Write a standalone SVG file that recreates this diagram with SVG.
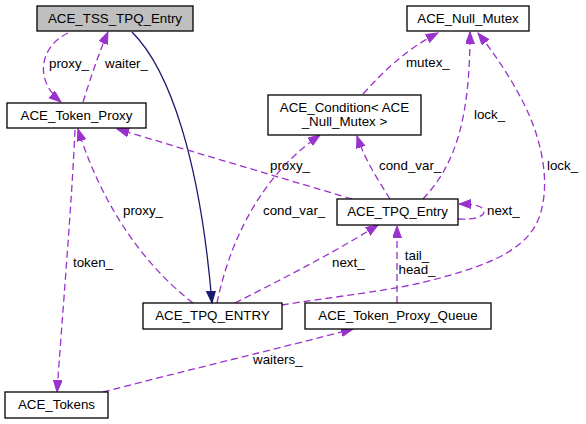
<svg xmlns="http://www.w3.org/2000/svg" width="586" height="424" viewBox="0 0 586 424">
<defs>
<style>
.box{fill:#fff;stroke:#000;stroke-width:1.3}
.root{fill:#bfbfbf}
text{font-family:"Liberation Sans",Arial,Helvetica,sans-serif;font-size:13.33px;fill:#000}
.c{text-anchor:middle}
.d{fill:none;stroke:#9a32cd;stroke-width:1.3;stroke-dasharray:7,4}
.s{fill:none;stroke:#191970;stroke-width:1.3}
</style>
<marker id="ap" markerUnits="userSpaceOnUse" markerWidth="13" markerHeight="10" refX="12" refY="4.5" orient="auto" viewBox="0 0 13 10">
<path d="M0,0 L12,4.5 L0,9 z" fill="#9a32cd" stroke="#9a32cd" stroke-width="1"/>
</marker>
<marker id="an" markerUnits="userSpaceOnUse" markerWidth="13" markerHeight="10" refX="12" refY="4.5" orient="auto" viewBox="0 0 13 10">
<path d="M0,0 L12,4.5 L0,9 z" fill="#191970" stroke="#191970" stroke-width="1"/>
</marker>
</defs>
<rect width="586" height="424" fill="#fff"/>
<g id="edges">
<path class="d" d="M68,33 C42,45 32,78 61,102" marker-end="url(#ap)"/>
<path class="d" d="M83,102 C90,80 98,55 108,32" marker-end="url(#ap)"/>
<path class="s" d="M132,32 C170,70 200,160 212,303" marker-end="url(#an)"/>
<path class="d" d="M352,199 L117,129" marker-end="url(#ap)"/>
<path class="d" d="M193,303 C140,262 100,200 78,129" marker-end="url(#ap)"/>
<path class="d" d="M75,130 C72,200 62,320 57,392" marker-end="url(#ap)"/>
<path class="d" d="M217,303 C228,250 255,180 320,135" marker-end="url(#ap)"/>
<path class="d" d="M390,199 C378,180 365,160 357,136" marker-end="url(#ap)"/>
<path class="d" d="M363,94 C385,70 405,50 438,33" marker-end="url(#ap)"/>
<path class="d" d="M423,199 C455,165 470,120 470,32" marker-end="url(#ap)"/>
<path class="d" d="M282,305 C330,297 400,290 440,278 C500,262 530,245 540,215 C548,190 545,160 535,130 C525,100 500,60 478,33" marker-end="url(#ap)"/>
<path class="d" d="M397,303 L397,226" marker-end="url(#ap)"/>
<path class="d" d="M458,219 C475,220 485,216 484,211 C483,206 474,204 459,204" marker-end="url(#ap)"/>
<path class="d" d="M235,303 C280,280 330,255 378,225" marker-end="url(#ap)"/>
<path class="d" d="M103,392 C180,372 280,348 353,329" marker-end="url(#ap)"/>
<text x="49" y="68">proxy_</text>
<text x="105" y="68">waiter_</text>
<text x="406" y="67">mutex_</text>
<text x="474" y="119">lock_</text>
<text x="547" y="170">lock_</text>
<text x="270" y="170">proxy_</text>
<text x="379" y="170">cond_var_</text>
<text x="263" y="215">cond_var_</text>
<text x="123" y="215">proxy_</text>
<text x="487" y="215">next_</text>
<text x="332" y="267">next_</text>
<text x="73" y="267">token_</text>
<text class="c" x="417" y="260">tail_</text>
<text class="c" x="417" y="274">head_</text>
<text x="253" y="364">waiters_</text>
</g>
<g id="ACE_TSS_TPQ_Entry">
<rect class="box root" x="37" y="6" width="156" height="25"/>
<text class="c" x="115" y="23">ACE_TSS_TPQ_Entry</text>
</g>
<g id="ACE_Token_Proxy">
<rect class="box" x="7" y="103" width="139" height="25"/>
<text class="c" x="76.5" y="120">ACE_Token_Proxy</text>
</g>
<g id="ACE_Null_Mutex">
<rect class="box" x="407" y="6" width="122" height="25"/>
<text class="c" x="468" y="23">ACE_Null_Mutex</text>
</g>
<g id="ACE_Condition">
<rect class="box" x="268" y="95" width="153" height="40"/>
<text class="c" x="344.5" y="112">ACE_Condition&lt; ACE</text>
<text class="c" x="344.5" y="126">_Null_Mutex &gt;</text>
</g>
<g id="ACE_TPQ_Entry">
<rect class="box" x="337" y="199" width="121" height="26"/>
<text class="c" x="397.5" y="216">ACE_TPQ_Entry</text>
</g>
<g id="ACE_TPQ_ENTRY">
<rect class="box" x="143" y="303" width="139" height="26"/>
<text class="c" x="212.5" y="320">ACE_TPQ_ENTRY</text>
</g>
<g id="ACE_Token_Proxy_Queue">
<rect class="box" x="305" y="303" width="186" height="26"/>
<text class="c" x="398" y="320">ACE_Token_Proxy_Queue</text>
</g>
<g id="ACE_Tokens">
<rect class="box" x="5" y="392" width="103" height="26"/>
<text class="c" x="56.5" y="409">ACE_Tokens</text>
</g>
</svg>
